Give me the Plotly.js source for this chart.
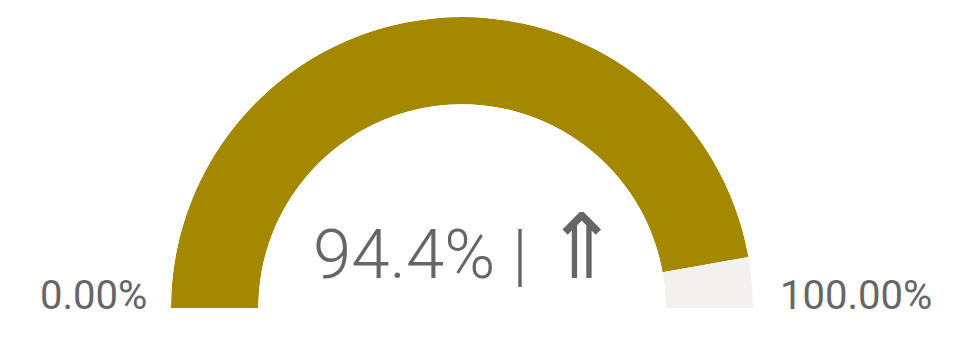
<!DOCTYPE html>
<html>
<head>
<meta charset="utf-8">
<script src="https://cdn.plot.ly/plotly-3.0.1.min.js"></script>
<style>html,body{margin:0;padding:0;background:#fff;}#chart{width:974px;height:337px;}</style>
</head>
<body>
<div id="chart"></div>
<script>
// ---- data ----
const gaugeMin = 0;
const gaugeMax = 100;
const actualValue = 94.4;
const segmentNames = ['Value', 'Remaining'];
const segmentValues = [actualValue - gaugeMin, gaugeMax - actualValue];
const segmentColors = ['#A38800', '#F2F1F0'];
const valueText = '94.4%';
const trendArrow = '⇑';
const minLabel = '0.00%';
const maxLabel = '100.00%';

// ---- build gauge from data (semicircle via polar axis) ----
const total = gaugeMax - gaugeMin;
const thetaCenters = [];
const thetaWidths = [];
let acc = 0;
segmentValues.forEach(v => {
  thetaCenters.push((acc + v / 2) / total * 180);
  thetaWidths.push(v / total * 180);
  acc += v;
});

const trace = {
  type: 'barpolar',
  r: segmentValues.map(() => 1),
  theta: thetaCenters,
  width: thetaWidths,
  text: segmentNames,
  marker: { color: segmentColors, line: { width: 0 } },
  hoverinfo: 'text',
  showlegend: false
};

const grey = '#666666';
const centerLabel = valueText + ' | <span style="font-size:90px">' + trendArrow + '</span>';
const layout = {
  width: 974, height: 337,
  margin: { l: 0, r: 0, t: 0, b: 0 },
  paper_bgcolor: '#ffffff',
  showlegend: false,
  polar: {
    domain: { x: [171 / 974, 753 / 974], y: [29 / 337, 320 / 337] },
    sector: [0, 180],
    hole: 0.70,
    bgcolor: 'rgba(0,0,0,0)',
    angularaxis: { visible: false, rotation: 180, direction: 'clockwise' },
    radialaxis: { visible: false, range: [0, 1] }
  },
  annotations: [
    { text: centerLabel, xref: 'paper', yref: 'paper', x: 466 / 974, y: 1 - 247 / 337,
      xanchor: 'center', yanchor: 'middle', showarrow: false,
      font: { family: 'Roboto', size: 69, color: grey, weight: 300 } },
    { text: minLabel, xref: 'paper', yref: 'paper', x: 93 / 974, y: 1 - 295 / 337,
      xanchor: 'center', yanchor: 'middle', showarrow: false,
      font: { family: 'Roboto', size: 40, color: grey } },
    { text: maxLabel, xref: 'paper', yref: 'paper', x: 855.5 / 974, y: 1 - 295 / 337,
      xanchor: 'center', yanchor: 'middle', showarrow: false,
      font: { family: 'Roboto', size: 40, color: grey } }
  ]
};

Plotly.newPlot('chart', [trace], layout, { displayModeBar: false, staticPlot: true });
</script>
</body>
</html>
